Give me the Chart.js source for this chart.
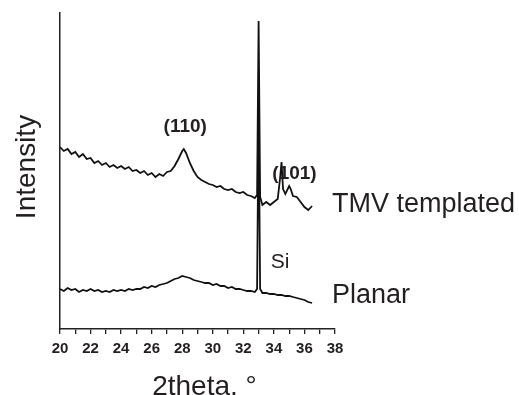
<!DOCTYPE html>
<html>
<head>
<meta charset="utf-8">
<script src="https://cdn.jsdelivr.net/npm/chart.js@4.4.0/dist/chart.umd.min.js"></script>
<style>
  html, body { margin: 0; padding: 0; background: #fff; }
  #wrap { width: 519px; height: 395px; position: relative; }
</style>
</head>
<body>
<div id="wrap"><canvas id="xrd"></canvas></div>
<script>
// 2theta positions (deg) and intensities (arbitrary units)
const tmvX = [20.0, 20.25, 20.5, 20.75, 21.0, 21.25, 21.5, 21.75, 22.0, 22.25, 22.5, 22.75,
  23.0, 23.25, 23.5, 23.75, 24.0, 24.25, 24.5, 24.75, 25.0, 25.25, 25.5, 25.75,
  26.0, 26.25, 26.5, 26.75, 27.0, 27.25, 27.5, 27.75, 28.0, 28.1, 28.25, 28.5, 28.75,
  29.0, 29.25, 29.5, 29.75, 30.0, 30.25, 30.5, 30.75, 31.0, 31.25, 31.5, 31.75,
  32.0, 32.25, 32.5, 32.75, 32.9, 33.0, 33.1, 33.25, 33.5, 33.75, 34.0, 34.25, 34.4,
  34.5, 34.6, 34.75, 35.0, 35.1, 35.25, 35.5, 35.75, 36.0, 36.25, 36.5];
const tmvY = [182, 178, 180, 175, 177, 172, 175, 170, 171, 166, 168, 164,
  166, 162, 164, 161, 163, 160, 162, 158, 159, 156, 158, 154,
  156, 152, 155, 153, 157, 158, 163, 170, 178, 180, 176, 166, 158,
  152, 149, 147, 145, 144, 142, 143, 140, 139, 140, 137, 136,
  137, 134, 133, 131, 134, 308, 132, 124, 127, 124, 127, 130, 150,
  167, 140, 135, 143, 140, 133, 132, 127, 122, 119, 123];

const planarX = [20.0, 20.25, 20.5, 20.75, 21.0, 21.25, 21.5, 21.75, 22.0, 22.25, 22.5, 22.75,
  23.0, 23.25, 23.5, 23.75, 24.0, 24.25, 24.5, 24.75, 25.0, 25.25, 25.5, 25.75,
  26.0, 26.25, 26.5, 26.75, 27.0, 27.25, 27.5, 27.75, 28.0, 28.25, 28.5, 28.75,
  29.0, 29.25, 29.5, 29.75, 30.0, 30.25, 30.5, 30.75, 31.0, 31.25, 31.5, 31.75,
  32.0, 32.25, 32.5, 32.75, 32.9, 33.0, 33.1, 33.25, 33.5, 33.75, 34.0, 34.25,
  34.5, 34.75, 35.0, 35.25, 35.5, 35.75, 36.0, 36.25, 36.5];
const planarY = [40, 38, 41, 39, 40, 37, 39, 38, 40, 38, 39, 37,
  38, 37, 39, 38, 39, 38, 40, 39, 40, 40, 42, 41,
  43, 42, 44, 45, 46, 48, 50, 51, 53, 52, 51, 49,
  48, 47, 46, 46, 44, 45, 43, 43, 41, 42, 40, 40,
  39, 38, 38, 37, 40, 220, 40, 36, 36, 35, 35, 34,
  34, 33, 33, 32, 31, 30, 29, 27, 26];

const xTicks = [20, 22, 24, 26, 28, 30, 32, 34, 36, 38];

// text labels: [text, x, y, font, align]
const notes = [
  ['(110)', 28.2, 202, 'bold 19px Arial', 'center'],
  ['(101)', 35.35, 155, 'bold 19px Arial', 'center'],
  ['Si', 34.4, 67, '21px Arial', 'center'],
  ['TMV templated', 37.8, 124, '27px Arial', 'left'],
  ['Planar', 37.8, 33, '27px Arial', 'left']
];

const toPts = (xs, ys) => xs.map((x, i) => ({ x: x, y: ys[i] }));

const textPlugin = {
  id: 'textPlugin',
  afterDraw(chart) {
    const ctx = chart.ctx;
    const xs = chart.scales.x, ys = chart.scales.y;
    ctx.save();
    ctx.fillStyle = '#231f20';
    ctx.textBaseline = 'middle';
    notes.forEach(n => {
      ctx.font = n[3];
      ctx.textAlign = n[4];
      ctx.fillText(n[0], xs.getPixelForValue(n[1]), ys.getPixelForValue(n[2]));
    });
    // axis titles
    ctx.font = '28px Arial';
    ctx.textAlign = 'center';
    ctx.textBaseline = 'alphabetic';
    ctx.fillText('2theta, \u00b0', (xs.left + xs.right) / 2 + 7, 395);
    ctx.translate(35, (ys.top + ys.bottom) / 2 - 4);
    ctx.rotate(-Math.PI / 2);
    ctx.fillText('Intensity', 0, 0);
    ctx.restore();
  }
};

new Chart(document.getElementById('xrd'), {
  type: 'line',
  data: {
    datasets: [
      { label: 'TMV templated', data: toPts(tmvX, tmvY), borderColor: '#111', borderWidth: 1.8,
        pointRadius: 0, tension: 0, fill: false },
      { label: 'Planar', data: toPts(planarX, planarY), borderColor: '#111', borderWidth: 1.8,
        pointRadius: 0, tension: 0, fill: false }
    ]
  },
  options: {
    responsive: true,
    maintainAspectRatio: false,
    animation: false,
    layout: { padding: { top: 13, right: 184, left: 0, bottom: 0 } },
    plugins: { legend: { display: false }, tooltip: { enabled: false } },
    scales: {
      x: {
        type: 'linear', min: 20, max: 38,
        afterFit: s => { s.height = 66; },
        afterBuildTicks: s => { s.ticks = []; for (let v = 20; v <= 38; v++) s.ticks.push({ value: v }); },
        ticks: {
          autoSkip: false, maxRotation: 0, padding: 6, color: '#231f20',
          font: { family: 'Arial', size: 15, weight: 'bold' },
          callback: v => xTicks.includes(v) ? String(v) : ''
        },
        grid: { drawOnChartArea: false, drawTicks: true, tickLength: 5, color: '#222', lineWidth: 1.3 },
        border: { display: true, color: '#222', width: 1.5 }
      },
      y: {
        min: 0, max: 316,
        afterFit: s => { s.width = 60; },
        ticks: { display: false },
        grid: { display: false },
        border: { display: true, color: '#222', width: 1.5 }
      }
    }
  },
  plugins: [textPlugin]
});
</script>
</body>
</html>
